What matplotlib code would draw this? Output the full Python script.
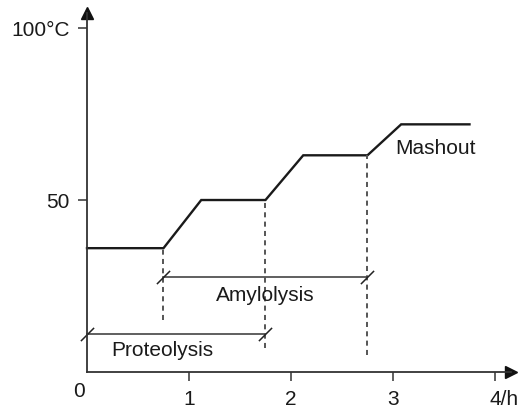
import matplotlib
matplotlib.use("Agg")
import matplotlib.pyplot as plt

plt.rcParams['font.family'] = ['Liberation Sans', 'DejaVu Sans']

# ---- data ----
time_h = [0, 0.75, 1.12, 1.75, 2.12, 2.75, 3.08, 3.75]
temp_c = [36, 36, 50, 50, 63, 63, 72, 72]

dash_x = [0.75, 1.75, 2.75]
dash_top = [36, 50, 63]
dash_bottom = [15, 7, 4.8]

bracket_names = ["Amylolysis", "Proteolysis"]
bracket_start = [0.75, 0.0]
bracket_end = [2.75, 1.75]
bracket_level = [27.5, 11.0]
bracket_text_x = [1.745, 0.737]
bracket_text_y = [20.6, 4.7]

xtick_vals = [1, 2, 3, 4]
xtick_labels = ["1", "2", "3", "4/h"]
ytick_vals = [50, 100]
ytick_labels = ["50", "100°C"]

# ---- figure ----
fig = plt.figure(figsize=(5.32, 4.09), dpi=100)
ax = fig.add_axes([87/532, 37/409, 423.8/532, 359.1/409])
ax.set_xlim(0, 4.155)
ax.set_ylim(0, 104.4)

axis_col = '#333333'
for s in ['top', 'right']:
    ax.spines[s].set_visible(False)
for s in ['left', 'bottom']:
    ax.spines[s].set_color(axis_col)
    ax.spines[s].set_linewidth(1.3)

# arrows
ax.plot(1, 0, '>', color='#111111', markersize=8.5, transform=ax.get_yaxis_transform(), clip_on=False)
ax.plot(0, 1, '^', color='#111111', markersize=8.5, transform=ax.get_xaxis_transform(), clip_on=False)

# ticks
fs = 15
ax.set_xticks(xtick_vals)
ax.set_xticklabels([])
ax.set_yticks(ytick_vals)
ax.set_yticklabels(ytick_labels, fontsize=fs, color='#1a1a1a')
ax.tick_params(axis='both', direction='out', length=6.5, width=1.1, color=axis_col)
ax.tick_params(axis='y', pad=6)

for v, lab in zip(xtick_vals, xtick_labels):
    if lab.startswith('4'):
        ax.text(v - 0.055, -9.6, lab, ha='left', va='baseline', fontsize=fs, color='#1a1a1a')
    else:
        ax.text(v, -9.6, lab, ha='center', va='baseline', fontsize=fs, color='#1a1a1a')
ax.text(-0.075, -7.4, "0", ha='center', va='baseline', fontsize=fs, color='#1a1a1a', clip_on=False)

# curve
ax.plot(time_h, temp_c, color='#1a1a1a', lw=1.7, solid_joinstyle='miter', clip_on=False)

# dashed verticals
for x, t, b in zip(dash_x, dash_top, dash_bottom):
    ax.plot([x, x], [b, t], color='#555555', lw=1.4, linestyle=(0, (2.6, 2.2)))

# brackets
slash = [(-1, -1), (1, 1)]
for name, s, e, lev, tx, ty in zip(bracket_names, bracket_start, bracket_end,
                                    bracket_level, bracket_text_x, bracket_text_y):
    ax.plot([s, e], [lev, lev], color='#444444', lw=1.2, clip_on=False)
    ax.plot([s, e], [lev, lev], linestyle='none', marker=slash, markersize=9.5,
            markeredgewidth=1.1, markeredgecolor='#222222', clip_on=False)
    ax.text(tx, ty, name, ha='center', va='baseline', fontsize=fs, color='#1a1a1a')

ax.text(3.026, 63.3, "Mashout", ha='left', va='baseline', fontsize=fs, color='#1a1a1a')

fig.savefig("out.png", dpi=100)
